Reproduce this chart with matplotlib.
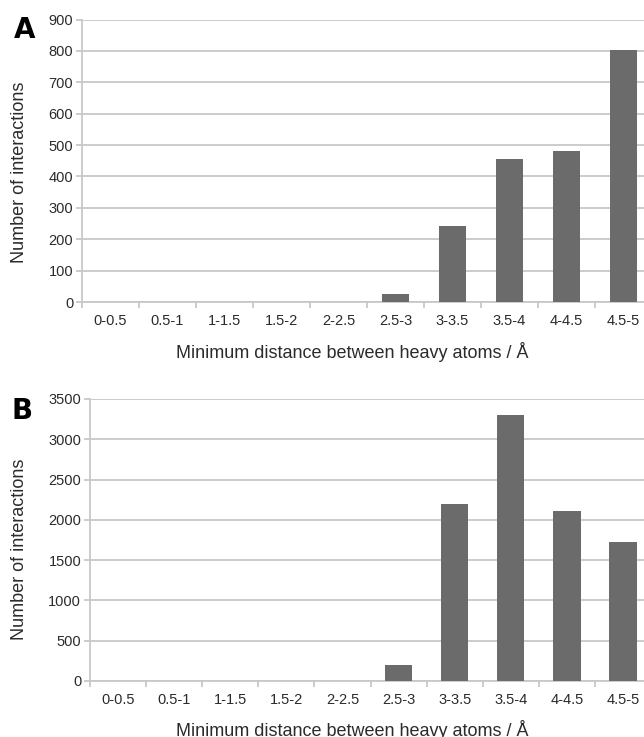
import numpy as np
import matplotlib.pyplot as plt

plt.rcParams['font.family'] = ['Liberation Sans', 'DejaVu Sans']

# distance bins (Angstrom)
categories = ['0-0.5', '0.5-1', '1-1.5', '1.5-2', '2-2.5',
              '2.5-3', '3-3.5', '3.5-4', '4-4.5', '4.5-5']
counts_a = [0, 0, 0, 0, 0, 26, 243, 456, 480, 802]
counts_b = [0, 0, 0, 0, 4, 199, 2199, 3298, 2108, 1728]

bar_col = '#6b6b6b'
grid_col = '#c8c8c8'
txt_col = '#2b2b2b'
W, H = 644, 737

fig = plt.figure(figsize=(W / 100, H / 100), dpi=100)

def px(x, y):
    # pixel position (from top-left) -> figure fraction
    return x / W, 1 - y / H

def panel(left, step, top, bottom, values, ymax, ystep, letter, letter_xy, ylab_y, xlab_y):
    right = left + step * len(categories)  # right end is cut by the figure edge
    ax = fig.add_axes([left / W, 1 - bottom / H, (right - left) / W, (bottom - top) / H])
    x = np.arange(len(categories))
    ax.bar(x, values, width=0.49, color=bar_col, zorder=3)
    ax.set_xlim(-0.5, len(categories) - 0.5)
    ax.set_ylim(0, ymax)
    ax.set_yticks(np.arange(0, ymax + 1, ystep))
    ax.yaxis.grid(True, color=grid_col, linewidth=1.3, zorder=0)
    ax.set_xticks(x)
    ax.set_xticklabels(categories)
    ax.set_xticks(np.arange(-0.5, len(categories)), minor=True)
    ax.tick_params(axis='x', which='major', length=0, pad=8.5, labelsize=10.5, labelcolor=txt_col)
    ax.tick_params(axis='x', which='minor', length=4, width=1.3, color=grid_col)
    ax.tick_params(axis='y', length=4.3, width=1.3, color=grid_col, labelsize=10.5,
                   labelcolor=txt_col, pad=2)
    for s in ['top', 'right']:
        ax.spines[s].set_visible(False)
    for s in ['left', 'bottom']:
        ax.spines[s].set_color(grid_col)
        ax.spines[s].set_linewidth(1.3)
    fig.text(*px(20, ylab_y), 'Number of interactions', rotation=90, fontsize=13,
             color=txt_col, ha='center', va='center')
    fig.text(*px(352, xlab_y), 'Minimum distance between heavy atoms / Å', fontsize=13,
             color=txt_col, ha='center', va='center')
    fig.text(*px(*letter_xy), letter, fontsize=20, fontweight='heavy',
             family='DejaVu Sans', color='black', va='baseline', ha='left')
    return ax

panel(82, 57, 19.5, 302, counts_a, 900, 100, 'A', (14, 38), 172, 352)
panel(90, 56.1, 399, 681, counts_b, 3500, 500, 'B', (11, 419), 549, 730)

fig.savefig('out.png', dpi=100)
